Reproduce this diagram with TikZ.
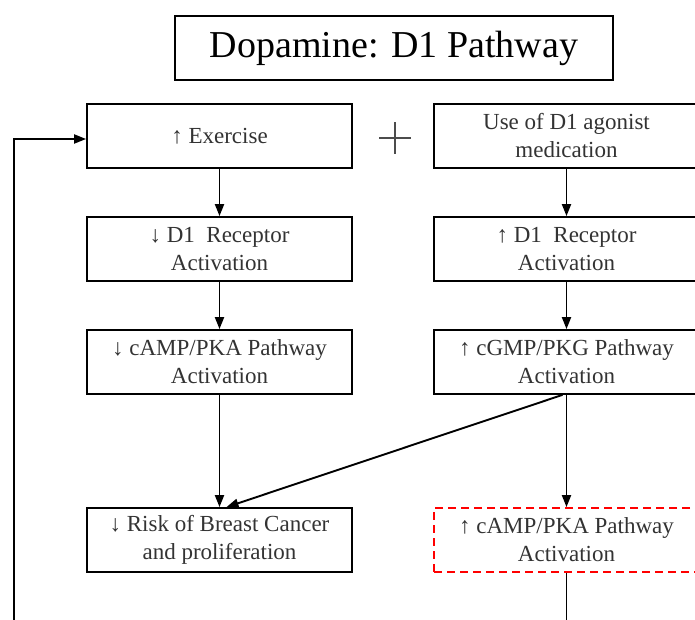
\documentclass[tikz,border=0pt]{standalone}
\usepackage{fontspec}
\setmainfont{Liberation Serif}
\usetikzlibrary{arrows.meta}
\begin{document}
\begin{tikzpicture}[x=1pt,y=-1pt,
  boxstyle/.style={draw=black, line width=1.8pt, minimum width=265pt, minimum height=64pt,
    align=center, inner sep=0pt, text=black!80, font=\fontsize{23}{28}\selectfont},
  redbox/.style={boxstyle, draw=red, dash pattern=on 8pt off 5pt},
  conn/.style={line width=1.9pt, -{Triangle[length=12pt,width=9pt]}},
  plainline/.style={line width=1.9pt}]
\clip (0,0) rectangle (695,620);
\fill[white] (0,0) rectangle (695,620);
\node[draw=black, line width=1.8pt, minimum width=438pt, minimum height=64pt, inner sep=0pt,
  font=\fontsize{38}{44}\selectfont] (title) at (394,48) {Dopamine: D1 Pathway};
\node[boxstyle] (ex) at (219.5,136) {↑ Exercise};
\node[boxstyle] (d1l) at (219.5,249) {↓ D1\ \ Receptor\\Activation};
\node[boxstyle] (campl) at (219.5,362) {↓ cAMP/PKA Pathway\\Activation};
\node[boxstyle] (risk) at (219.5,540) {↓ Risk of Breast Cancer\\and proliferation};
\node[boxstyle] (ago) at (566.5,136) {Use of D1 agonist\\medication};
\node[boxstyle] (d1r) at (566.5,249) {↑ D1\ \ Receptor\\Activation};
\node[boxstyle] (cgmp) at (566.5,362) {↑ cGMP/PKG Pathway\\Activation};
\node[redbox] (campr) at (566.5,540) {↑ cAMP/PKA Pathway\\Activation};
\coordinate (plus) at (395,138);
\draw[line width=1.1pt, black!70] ([xshift=-16pt]plus) -- ([xshift=16pt]plus)
  ([yshift=-16pt]plus) -- ([yshift=16pt]plus);
\draw[conn] (ex) -- (d1l);
\draw[conn] (d1l) -- (campl);
\draw[conn] (campl) -- (risk);
\draw[conn] (ago) -- (d1r);
\draw[conn] (d1r) -- (cgmp);
\draw[conn] (cgmp) -- (campr);
\draw[conn] ([xshift=-4pt]cgmp.south) -- ([xshift=7pt]risk.north);
\coordinate (bottomr) at (566.5,640);
\draw[plainline] (campr.south) -- (bottomr);
\coordinate (bottoml) at (14,640);
\coordinate (corner) at (14,139);
\draw[plainline, -{Triangle[length=12pt,width=9pt]}] (bottoml) -- (corner) -- (ex.west |- corner);
\end{tikzpicture}
\end{document}
